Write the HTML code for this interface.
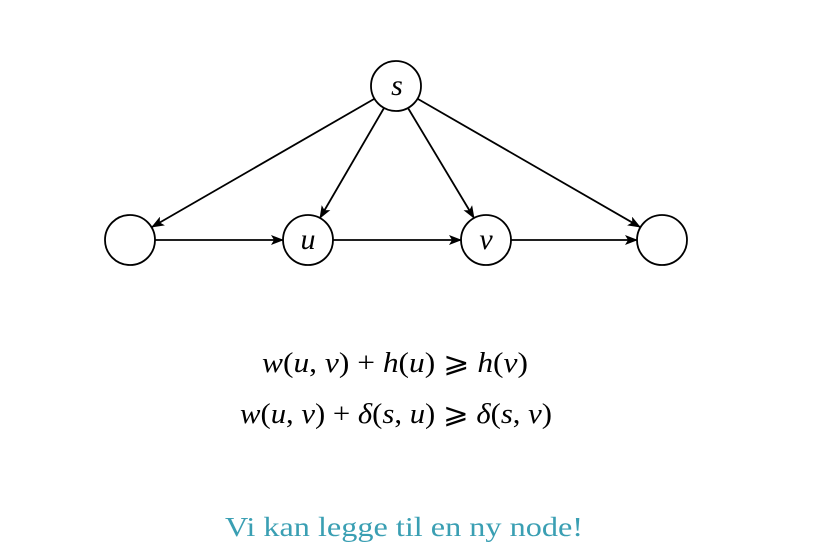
<!DOCTYPE html>
<html><head><meta charset="utf-8"><style>
html,body{margin:0;padding:0;background:#fff;}
svg{display:block;}
</style></head><body>
<svg width="826" height="554" viewBox="0 0 826 554" xmlns="http://www.w3.org/2000/svg">
<defs>
<marker id="a" markerWidth="13" markerHeight="10" refX="12" refY="5" orient="auto" markerUnits="userSpaceOnUse">
<path d="M0,0 L13,5 L0,10 L3,5 Z" fill="#000"/>
</marker>
</defs>
<g stroke="#000" stroke-width="1.8" fill="none">
<circle cx="396" cy="86" r="25"/>
<circle cx="130" cy="240" r="25"/>
<circle cx="308" cy="240" r="25"/>
<circle cx="486" cy="240" r="25"/>
<circle cx="662" cy="240" r="25"/>
<line x1="374" y1="99" x2="152" y2="227" marker-end="url(#a)"/>
<line x1="384" y1="108" x2="320" y2="218" marker-end="url(#a)"/>
<line x1="408" y1="108" x2="474" y2="218" marker-end="url(#a)"/>
<line x1="418" y1="99" x2="640" y2="227" marker-end="url(#a)"/>
<line x1="155" y1="240" x2="283" y2="240" marker-end="url(#a)"/>
<line x1="333" y1="240" x2="461" y2="240" marker-end="url(#a)"/>
<line x1="511" y1="240" x2="637" y2="240" marker-end="url(#a)"/>
</g>
<g font-family="Liberation Serif, serif" font-style="italic" font-size="30" text-anchor="middle" fill="#000">
<text x="397" y="95">s</text>
<text x="308" y="249">u</text>
<text x="486" y="249">v</text>
</g>
<g font-family="Liberation Serif, serif" font-size="28" text-anchor="middle" fill="#000">
<text x="395" y="372" textLength="266" lengthAdjust="spacingAndGlyphs"><tspan font-style="italic">w</tspan>(<tspan font-style="italic">u</tspan>, <tspan font-style="italic">v</tspan>) + <tspan font-style="italic">h</tspan>(<tspan font-style="italic">u</tspan>) ⩾ <tspan font-style="italic">h</tspan>(<tspan font-style="italic">v</tspan>)</text>
<text x="396" y="423" textLength="312" lengthAdjust="spacingAndGlyphs"><tspan font-style="italic">w</tspan>(<tspan font-style="italic">u</tspan>, <tspan font-style="italic">v</tspan>) + <tspan font-style="italic">δ</tspan>(<tspan font-style="italic">s</tspan>, <tspan font-style="italic">u</tspan>) ⩾ <tspan font-style="italic">δ</tspan>(<tspan font-style="italic">s</tspan>, <tspan font-style="italic">v</tspan>)</text>
</g>
<text x="404" y="536" font-family="Liberation Serif, serif" font-size="27" text-anchor="middle" fill="#3a9fb3" textLength="358" lengthAdjust="spacingAndGlyphs">Vi kan legge til en ny node!</text>
</svg>
</body></html>
